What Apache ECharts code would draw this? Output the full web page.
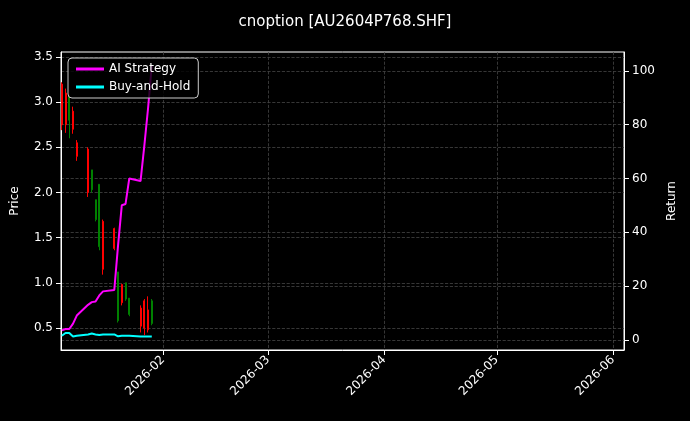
<!DOCTYPE html>
<html><head><meta charset="utf-8">
<script src="https://cdn.jsdelivr.net/npm/echarts@6/dist/echarts.min.js"></script>
<style>html,body{margin:0;background:#000}#main{width:690px;height:421px}</style>
</head><body><div id="main"></div>
<script>
const dates = ['2026-01-05','2026-01-06','2026-01-07','2026-01-08','2026-01-09','2026-01-12','2026-01-13','2026-01-14','2026-01-15','2026-01-16','2026-01-19','2026-01-20','2026-01-21','2026-01-22','2026-01-23','2026-01-26','2026-01-27','2026-01-28','2026-01-29'];
// [open, close, low, high]
const ohlc = [
  [3.20, 2.75, 2.69, 3.22],
  [3.10, 2.75, 2.66, 3.15],
  [2.80, 3.06, 2.60, 3.08],
  [2.90, 2.70, 2.65, 2.95],
  [2.55, 2.40, 2.35, 2.58],
  [2.48, 2.00, 1.95, 2.50],
  [2.03, 2.25, 2.00, 2.25],
  [1.70, 1.92, 1.68, 1.92],
  [1.40, 2.09, 1.36, 2.09],
  [1.68, 1.15, 1.09, 1.70],
  [1.60, 1.38, 1.36, 1.61],
  [0.58, 1.12, 0.56, 1.12],
  [0.98, 0.78, 0.75, 0.99],
  [0.82, 1.00, 0.80, 1.00],
  [0.65, 0.83, 0.63, 0.83],
  [0.72, 0.52, 0.45, 0.75],
  [0.80, 0.50, 0.42, 0.82],
  [0.70, 0.48, 0.45, 0.85],
  [0.55, 0.80, 0.53, 0.82]
];
const aiReturn = [3.5, 4, 4, 6, 9, 13, 14, 14.2, 16.5, 18, 18.5, 35, 50, 50.5, 60, 59, 72, 86, 102];
const bhReturn = [1.5, 2.5, 2.5, 1.2, 1.5, 2, 2.3, 2, 1.8, 2, 2, 1.3, 1.5, 1.5, 1.5, 1.2, 1.2, 1.2, 1.2];
const priceTicks = [0.5, 1.0, 1.5, 2.0, 2.5, 3.0, 3.5];
const returnTicks = [0, 20, 40, 60, 80, 100];

const upColor = '#008000', downColor = '#ff0000';
const gridLine = {show: true, lineStyle: {color: '#444', type: 'dashed', width: 0.8}};
const txt = {color: '#fff', fontFamily: 'DejaVu Sans', fontSize: 12};
const myChart = echarts.init(document.getElementById('main'));
myChart.setOption({
  backgroundColor: '#000',
  animation: false,
  title: {text: 'cnoption [AU2604P768.SHF]', left: 'center', top: 10,
    textStyle: {color: '#fff', fontFamily: 'DejaVu Sans', fontSize: 15, fontWeight: 'normal'}},
  legend: {
    data: ['AI Strategy', 'Buy-and-Hold'], orient: 'vertical', left: 68, top: 58,
    backgroundColor: 'rgba(0,0,0,0.8)', borderColor: '#ccc', borderWidth: 1, borderRadius: 4,
    padding: [5, 8], itemGap: 6, itemWidth: 28, itemHeight: 3, icon: 'rect',
    textStyle: {color: '#fff', fontFamily: 'DejaVu Sans', fontSize: 12}
  },
  grid: {left: 61, right: 66, top: 52, bottom: 71, show: true, borderColor: '#fff', borderWidth: 1},
  xAxis: {
    type: 'time', min: '2026-01-04 19:00', max: '2026-06-03 22:00', splitNumber: 5,
    axisLine: {onZero: false, lineStyle: {color: '#fff'}}, axisTick: {lineStyle: {color: '#fff'}},
    axisLabel: Object.assign({rotate: 45, formatter: '{yyyy}-{MM}', hideOverlap: true}, txt),
    splitLine: gridLine, minorTick: {show: false}
  },
  yAxis: [
    {type: 'value', name: 'Price', nameLocation: 'middle', nameGap: 40, nameTextStyle: txt,
     min: 0.256, max: 3.555,
     axisLabel: Object.assign({customValues: priceTicks, formatter: v => v.toFixed(1)}, txt),
     axisTick: {show: true, customValues: priceTicks},
     axisLine: {show: true, lineStyle: {color: '#fff'}}, splitLine: gridLine},
    {type: 'value', name: 'Return', nameLocation: 'middle', nameGap: 36, nameTextStyle: txt,
     min: -3.8, max: 107,
     axisLabel: Object.assign({customValues: returnTicks}, txt),
     axisTick: {show: true, customValues: returnTicks},
     axisLine: {show: true, lineStyle: {color: '#fff'}}, splitLine: gridLine}
  ],
  series: [
    {type: 'candlestick', yAxisIndex: 0, barMaxWidth: 1.5,
     itemStyle: {color: upColor, color0: downColor, borderColor: upColor, borderColor0: downColor, borderWidth: 1},
     data: dates.map((d, i) => [d].concat(ohlc[i]))},
    {name: 'AI Strategy', type: 'line', yAxisIndex: 1, symbol: 'none', color: '#ff00ff',
     lineStyle: {width: 2}, data: dates.map((d, i) => [d, aiReturn[i]])},
    {name: 'Buy-and-Hold', type: 'line', yAxisIndex: 1, symbol: 'none', color: '#00ffff',
     lineStyle: {width: 2}, data: dates.map((d, i) => [d, bhReturn[i]])}
  ]
});
</script></body></html>
